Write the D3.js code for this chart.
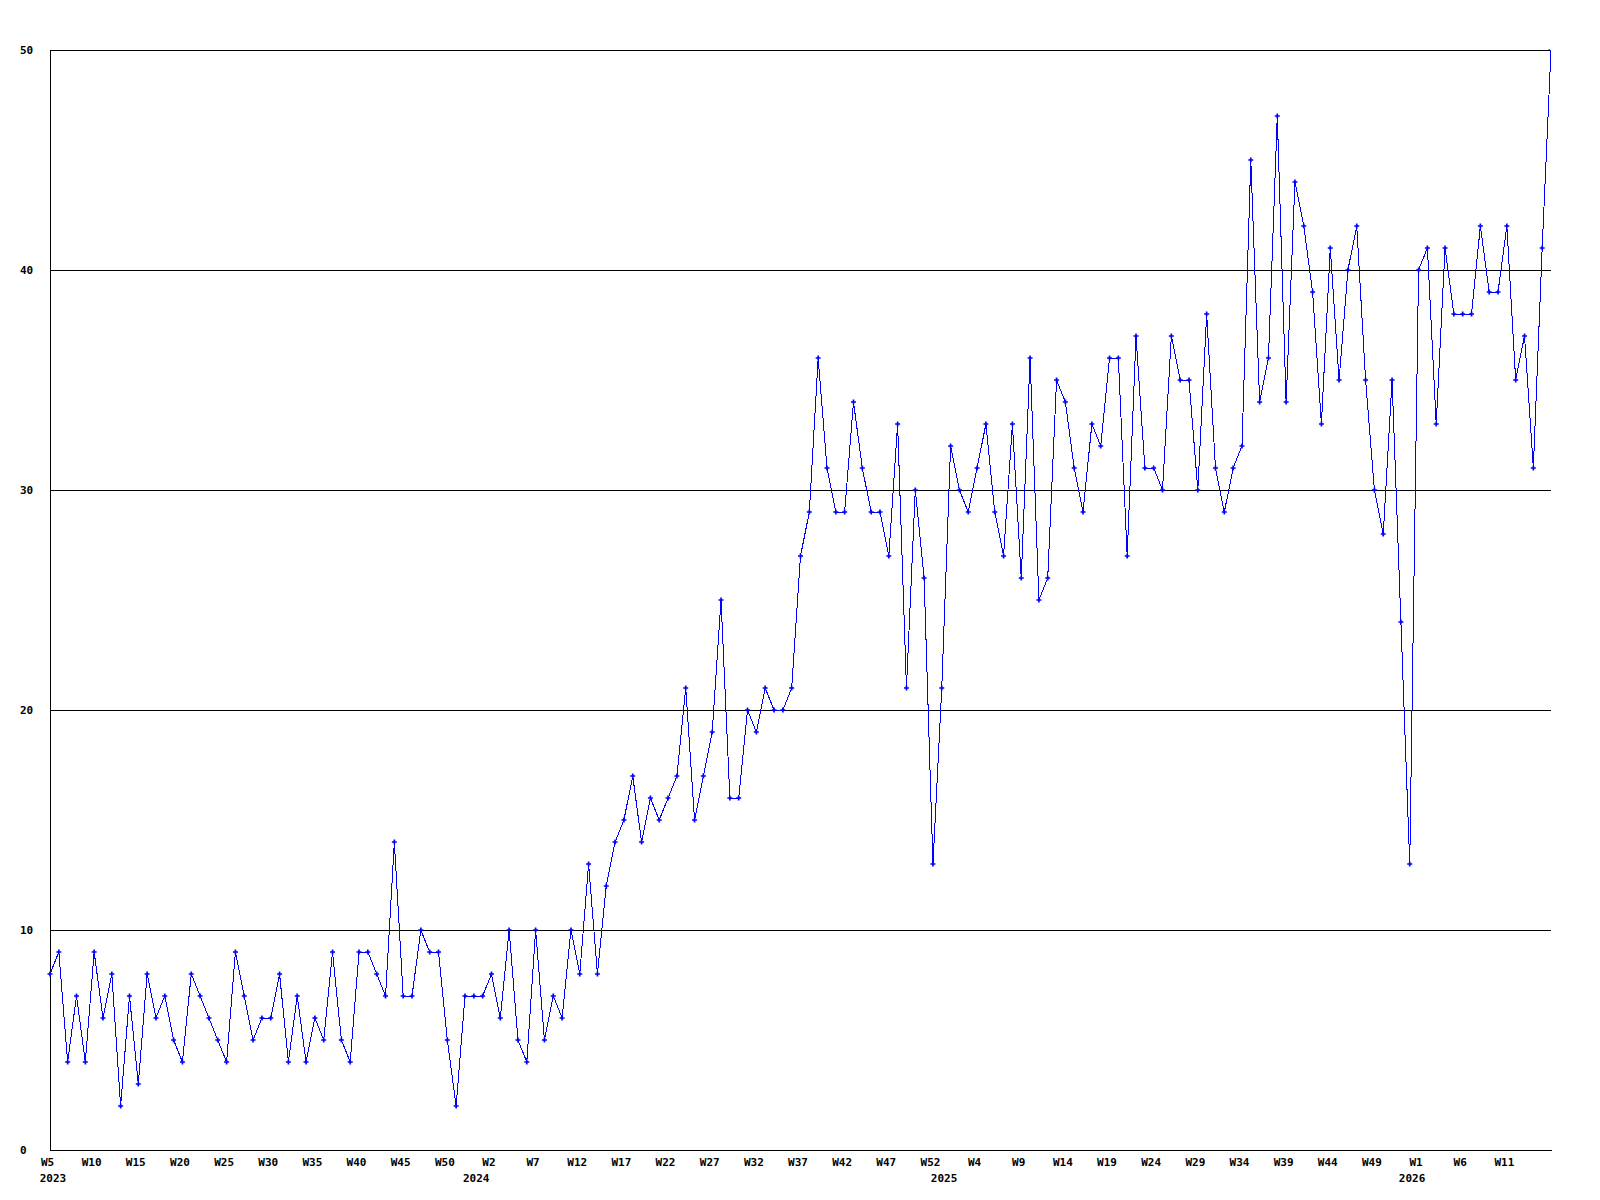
<!DOCTYPE html>
<html>
<head>
<meta charset="utf-8">
<script src="https://cdn.jsdelivr.net/npm/d3@7/dist/d3.min.js"></script>
<style>
  body { margin: 0; background: #fff; }
  svg text { font-family: "DejaVu Sans Mono", "Liberation Mono", monospace; font-weight: bold; font-size: 11px; fill: #000; }
  .axis path, .axis line { stroke: #000; shape-rendering: crispEdges; }
</style>
</head>
<body>
<div id="chart"></div>
<script>
// weekly counts, 2023 W5 .. 2026 W16
var counts = [
    8, 9, 4, 7, 4, 9, 6, 8, 2, 7, 3, 8, 6, 7, 5, 4, 8, 7, 6, 5,
    4, 9, 7, 5, 6, 6, 8, 4, 7, 4, 6, 5, 9, 5, 4, 9, 9, 8, 7, 14,
    7, 7, 10, 9, 9, 5, 2, 7, 7, 7, 8, 6, 10, 5, 4, 10, 5, 7, 6, 10,
    8, 13, 8, 12, 14, 15, 17, 14, 16, 15, 16, 17, 21, 15, 17, 19, 25, 16, 16, 20,
    19, 21, 20, 20, 21, 27, 29, 36, 31, 29, 29, 34, 31, 29, 29, 27, 33, 21, 30, 26,
    13, 21, 32, 30, 29, 31, 33, 29, 27, 33, 26, 36, 25, 26, 35, 34, 31, 29, 33, 32,
    36, 36, 27, 37, 31, 31, 30, 37, 35, 35, 30, 38, 31, 29, 31, 32, 45, 34, 36, 47,
    34, 44, 42, 39, 33, 41, 35, 40, 42, 35, 30, 28, 35, 24, 13, 40, 41, 33, 41, 38,
    38, 38, 42, 39, 39, 42, 35, 37, 31, 41, 50
];

// one label every 5 weeks
var weekTicks = [
    'W5', 'W10', 'W15', 'W20', 'W25', 'W30', 'W35', 'W40', 'W45', 'W50',
    'W2', 'W7', 'W12', 'W17', 'W22', 'W27', 'W32', 'W37', 'W42', 'W47', 'W52',
    'W4', 'W9', 'W14', 'W19', 'W24', 'W29', 'W34', 'W39', 'W44', 'W49',
    'W1', 'W6', 'W11'
];
var tickStep = 5;

var yearLabels = ['2023', '2024', '2025', '2026'];
var yearStarts = [0, 49, 102, 155];

var yTicks = [0, 10, 20, 30, 40, 50];

var W = 1600, H = 1200,
    marginLeft = 50, marginTop = 50,
    width = 1501, height = 1100;

var svg = d3.select('#chart').append('svg')
    .attr('width', W)
    .attr('height', H);

svg.append('rect')
    .attr('width', W)
    .attr('height', H)
    .attr('fill', '#fff');

// markers right on the last column get cut like in the original
svg.append('clipPath')
    .attr('id', 'plotclip')
    .append('rect')
    .attr('x', -5)
    .attr('y', -5)
    .attr('width', width - 1 + 5)
    .attr('height', height + 10);

var chart = svg.append('g')
    .attr('transform', 'translate(' + marginLeft + ',' + marginTop + ')');

var x = d3.scaleLinear()
    .domain([0, counts.length - 1])
    .range([0, width]);

var y = d3.scaleLinear()
    .domain([0, 50])
    .range([height, 0]);

// y axis + horizontal grid
var yy = chart.append('g')
    .attr('class', 'axis')
    .call(d3.axisLeft(y)
        .tickValues(yTicks)
        .tickSize(-width)
        .tickSizeOuter(0));

yy.selectAll('text')
    .attr('x', -30)
    .attr('dy', '0.32em')
    .style('text-anchor', 'start');

// x axis
var xx = chart.append('g')
    .attr('class', 'axis')
    .attr('transform', 'translate(0,' + height + ')')
    .call(d3.axisBottom(x)
        .tickValues(d3.range(weekTicks.length).map(function(i) { return i * tickStep; }))
        .tickFormat(function(d, i) { return weekTicks[i]; })
        .tickSize(0)
        .tickSizeOuter(0));

xx.selectAll('text')
    .attr('y', 16)
    .attr('dy', 0)
    .attr('dx', -3);

xx.selectAll('.year')
    .data(yearLabels)
    .enter()
    .append('text')
    .attr('class', 'year')
    .attr('x', function(d, i) { return Math.max(x(yearStarts[i]) - 6.5, 3); })
    .attr('y', 32)
    .style('text-anchor', 'middle')
    .text(function(d) { return d; });

// series
var line = d3.line()
    .x(function(d, i) { return x(i); })
    .y(function(d) { return y(d); });

chart.append('path')
    .datum(counts)
    .attr('fill', 'none')
    .attr('stroke', '#0000ff')
    .attr('stroke-width', 1)
    .style('shape-rendering', 'crispEdges')
    .attr('d', line);

chart.append('g')
    .attr('clip-path', 'url(#plotclip)')
    .selectAll('path')
    .data(counts)
    .enter()
    .append('path')
    .attr('transform', function(d, i) { return 'translate(' + x(i) + ',' + y(d) + ')'; })
    .attr('fill', '#0000ff')
    .attr('d', d3.symbol(d3.symbolCross).size(14));
</script>
</body>
</html>
